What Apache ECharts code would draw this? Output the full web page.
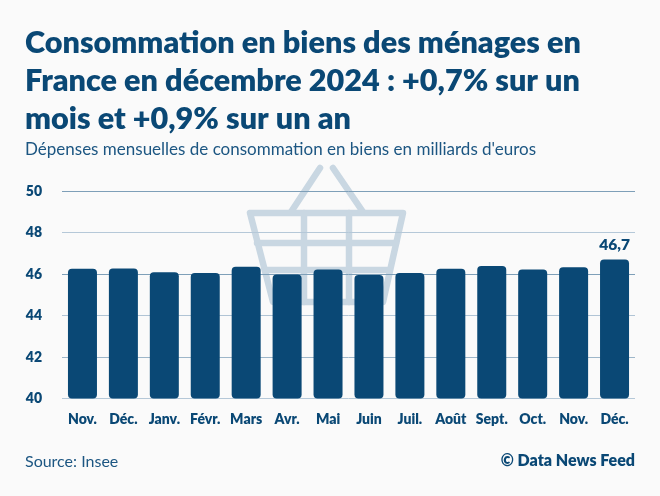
<!DOCTYPE html>
<html><head><meta charset="utf-8">
<style>html,body{margin:0;padding:0;background:#fafafa}#c{width:660px;height:496px}</style>
<script src="https://cdn.jsdelivr.net/npm/echarts@6/dist/echarts.min.js"></script></head>
<body><div id="c"></div>
<script>
const categories = ["Nov.","Déc.","Janv.","Févr.","Mars","Avr.","Mai","Juin","Juil.","Août","Sept.","Oct.","Nov.","Déc."];
const values = [46.25,46.27,46.08,46.05,46.35,45.98,46.22,45.95,46.05,46.25,46.38,46.22,46.33,46.7];
const labelled = ["46,7"];
const titleText = "Consommation en biens des ménages en\nFrance en décembre 2024 : +0,7% sur un\nmois et +0,9% sur un an";
const subtitleText = "Dépenses mensuelles de consommation en biens en milliards d'euros";
const sourceText = "Source: Insee";
const creditText = "© Data News Feed";
const navy = "#0a4875", FF = "Lato";
const gridColors = ["#b5c8d8","#9db6c9","#b0c4d5","#7e9fb8","#b5c8d8","#7e9fb8"];
const basketLines = [
 [[320,168],[291,212]],[[333,168],[363,212]],
 [[250,213],[403,213],[383,302],[273,302],[250,213]],
 [[257,243],[396,243]],[[265,270],[389,270]],
 [[304,213],[304,302]],[[349,213],[349,302]]
];
const chart = echarts.init(document.getElementById('c'),null,{renderer:'canvas'});
chart.setOption({
 backgroundColor:"#fafafa",animation:false,
 title:[
  {text:titleText,left:20,top:19.5,textStyle:{fontFamily:FF,fontWeight:800,fontSize:30.6,lineHeight:38,color:navy}},
  {text:subtitleText,left:20,top:136,textStyle:{fontFamily:FF,fontWeight:400,fontSize:17,color:"#1c5682"}},
  {text:sourceText,left:20,top:449,textStyle:{fontFamily:FF,fontWeight:400,fontSize:16,color:"#1c5682"}},
  {text:creditText,right:20,top:448,textStyle:{fontFamily:FF,fontWeight:800,fontSize:16,color:navy}}
 ],
 grid:{left:62,right:25,top:191,height:207.5,containLabel:false},
 xAxis:{type:'category',data:categories,axisTick:{show:false},
  axisLine:{show:false},
  axisLabel:{interval:0,margin:14,color:navy,fontFamily:FF,fontWeight:800,fontSize:14}},
 yAxis:{type:'value',min:40,max:50,interval:2,axisLine:{show:false},axisTick:{show:false},
  splitLine:{lineStyle:{color:gridColors,width:1}},
  axisLabel:{margin:20,color:navy,fontFamily:FF,fontWeight:800,fontSize:14,lineHeight:16,padding:[3,0,0,0]}},
 series:[{type:'bar',data:values,barWidth:29,z:5,
  itemStyle:{color:navy,borderRadius:4},
  label:{show:true,position:'top',distance:6,color:navy,fontFamily:FF,fontWeight:800,fontSize:15.5,
   formatter:p=>p.dataIndex===values.length-1?labelled[0]:''}}],
 graphic:{elements:basketLines.map(pts=>({type:'polyline',z:-1,silent:true,
  shape:{points:pts},style:{fill:null,stroke:"#c9d7e2",lineWidth:6.5,lineCap:'round',lineJoin:'round'}}))}
});
</script></body></html>
